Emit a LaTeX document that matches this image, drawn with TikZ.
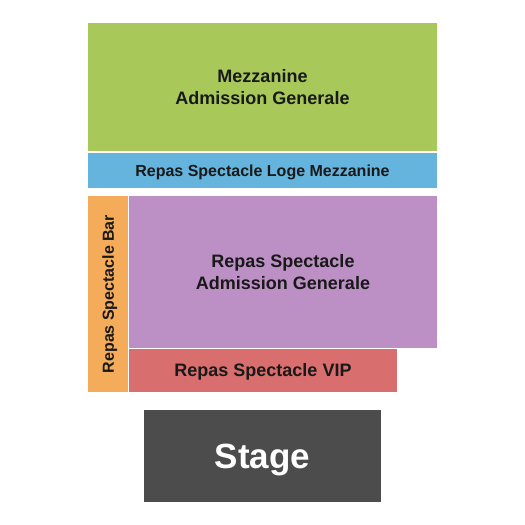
\documentclass[tikz,border=0pt]{standalone}
\usepackage{fontspec}
\setmainfont{Liberation Sans}
\usetikzlibrary{shapes}

\definecolor{mezzgreen}{RGB}{168,201,90}
\definecolor{logeblue}{RGB}{100,180,221}
\definecolor{barorange}{RGB}{244,172,90}
\definecolor{gapurple}{RGB}{188,144,196}
\definecolor{vipred}{RGB}{216,110,110}
\definecolor{stagegrey}{RGB}{76,76,76}

\begin{document}
\begin{tikzpicture}[x=1pt,y=-1pt,
        section/.style={rectangle,inner sep=0pt,outer sep=0pt,align=center,text=black!90,
            font=\bfseries\fontsize{18}{21.6}\selectfont},
        small/.style={font=\bfseries\fontsize{16}{19}\selectfont}
    ]
        \useasboundingbox (0,0) rectangle (525,525);

        \node[section,fill=mezzgreen,minimum width=349pt,minimum height=128pt] (mezz) at (262.5,87) {Mezzanine\\Admission Generale};
        \node[section,small,fill=logeblue,text height=11.5pt,text depth=0pt,minimum width=349pt,minimum height=35pt] (loge) at (262.5,170.5) {Repas Spectacle Loge Mezzanine};

        \node[section,small,fill=barorange,rotate=90,text height=11.5pt,text depth=0pt,minimum width=196pt,minimum height=40pt] (bar) at (108,294) {Repas Spectacle Bar};
        \node[section,fill=gapurple,minimum width=308pt,minimum height=152pt] (ga) at (283,272) {Repas Spectacle\\Admission Generale};
        \node[section,fill=vipred,text height=12.9pt,text depth=0pt,minimum width=268pt,minimum height=43pt] (vip) at (263,370.5) {Repas Spectacle VIP};

        \node[section,fill=stagegrey,text=white,font=\bfseries\fontsize{35}{40}\selectfont,text height=25pt,text depth=0pt,minimum width=237pt,minimum height=92pt] (stage) at (262.5,456) {Stage};

    \end{tikzpicture}
\end{document}
